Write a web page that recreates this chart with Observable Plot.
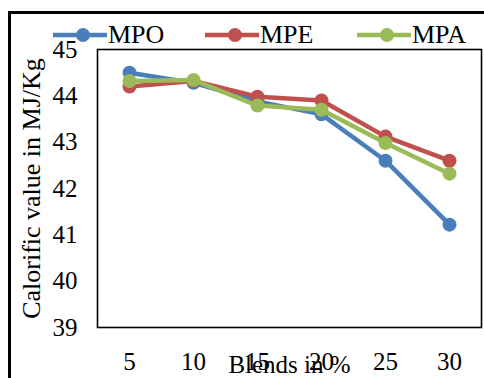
<!DOCTYPE html>
<html>
<head>
<meta charset="utf-8">
<script src="https://cdn.jsdelivr.net/npm/d3@7"></script>
<script src="https://cdn.jsdelivr.net/npm/@observablehq/plot@0.6"></script>
<style>
  html, body { margin: 0; padding: 0; background: #fff; }
  #wrap { position: relative; width: 484px; height: 378px; overflow: hidden; font-family: "Liberation Serif", serif; }
  #outer { position: absolute; left: 8px; top: 11px; right: -10px; bottom: -10px; border-left: 3px solid #000; border-top: 3px solid #000; pointer-events: none; }
  #legend { position: absolute; left: 53px; top: 21px; display: flex; font-size: 26px; line-height: 28px; color: #000; }
  #legend .item { display: flex; align-items: center; width: 152px; }
  #legend svg { margin-right: 1px; }
  #chart { position: absolute; left: 0; top: 0; }
</style>
</head>
<body>
<div id="wrap">
  <div id="chart"></div>
  <div id="outer"></div>
  <div id="legend"></div>
</div>
<script>
const blends = ["5", "10", "15", "20", "25", "30"];
const seriesNames = ["MPO", "MPE", "MPA"];
const seriesColors = ["#4a7ebb", "#c0504d", "#9bbb59"];
const mpo = [44.5, 44.28, 43.88, 43.6, 42.6, 41.22];
const mpe = [44.2, 44.32, 43.98, 43.9, 43.12, 42.6];
const mpa = [44.32, 44.34, 43.79, 43.7, 42.98, 42.32];
const yTicks = [39, 40, 41, 42, 43, 44, 45];

const seriesValues = [mpo, mpe, mpa];
const rows = seriesNames.map((name, s) => blends.map((b, i) => ({series: name, blend: b, value: seriesValues[s][i]})));

const marks = [];
rows.forEach((data, s) => {
  marks.push(Plot.line(data, {x: "blend", y: "value", stroke: seriesColors[s], strokeWidth: 4.5}));
  marks.push(Plot.dot(data, {x: "blend", y: "value", fill: seriesColors[s], r: 7}));
});
marks.push(Plot.frame({stroke: "#000", strokeWidth: 1.6}));
marks.push(Plot.axisX({tickSize: 0, tickPadding: 25, fontSize: 25, label: null}));
marks.push(Plot.axisX({tickSize: 0, ticks: [], label: "Blends in %", labelAnchor: "center", labelArrow: "none", labelOffset: 45, fontSize: 25}));
marks.push(Plot.axisY({ticks: yTicks, tickFormat: d => String(d), tickSize: 0, tickPadding: 20, fontSize: 25, label: null}));
marks.push(Plot.axisY({ticks: [], label: "Calorific value in MJ/Kg", labelAnchor: "center", labelArrow: "none", labelOffset: 76, fontSize: 26}));

const chart = Plot.plot({
  width: 484,
  height: 378,
  marginLeft: 97,
  marginRight: 3,
  marginTop: 49,
  marginBottom: 51,
  style: {fontFamily: "'Liberation Serif', serif", fontSize: "25px", color: "#000", background: "transparent"},
  x: {type: "point", domain: blends, padding: 0.5},
  y: {domain: [39, 45]},
  marks
});
document.getElementById("chart").appendChild(chart);

const legend = document.getElementById("legend");
seriesNames.forEach((name, s) => {
  const item = document.createElement("div");
  item.className = "item";
  item.innerHTML = `<svg width="54" height="20"><line x1="0" y1="10" x2="54" y2="10" stroke="${seriesColors[s]}" stroke-width="4.5"/><circle cx="30" cy="10" r="7" fill="${seriesColors[s]}"/></svg><span>${name}</span>`;
  legend.appendChild(item);
});
</script>
</body>
</html>
